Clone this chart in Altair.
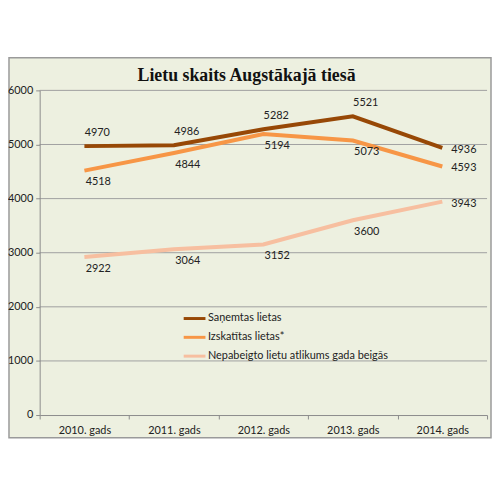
import altair as alt
import pandas as pd

years = ["2010. gads", "2011. gads", "2012. gads", "2013. gads", "2014. gads"]
series_names = ["Saņemtas lietas", "Izskatītas lietas*", "Nepabeigto lietu atlikums gada beigās"]
received = [4970, 4986, 5282, 5521, 4936]
reviewed = [4518, 4844, 5194, 5073, 4593]
pending = [2922, 3064, 3152, 3600, 3943]
y_ticks = [0, 1000, 2000, 3000, 4000, 5000, 6000]
colors = ["#974806", "#f79646", "#f7bfa0"]

W, H = 452, 328
BG = "#edf0e0"
GRAY = "#8c8c8c"

rows = []
for name, vals in zip(series_names, [received, reviewed, pending]):
    for i, (yr, v) in enumerate(zip(years, vals)):
        rows.append({"gads": yr, "series": name, "value": v, "last": i == len(years) - 1})
df = pd.DataFrame(rows)

x_enc = alt.X("gads:N", sort=years, bandPosition=0.5,
              scale=alt.Scale(type="band", paddingInner=0, paddingOuter=0),
              axis=alt.Axis(title=None, tickBand="extent", tickSize=4, labelPadding=6,
                            labelFontSize=11, labelFont="Lato", labelColor="#222",
                            domainColor=GRAY, tickColor=GRAY, labelAngle=0, zindex=1))
y_scale = alt.Scale(domain=[0, 6000], nice=False)
y_axis = alt.Axis(title=None, values=y_ticks, grid=False, format="d",
                  tickSize=4, labelPadding=3, labelFontSize=11, labelFont="Lato",
                  labelColor="#222", domainColor=GRAY, tickColor=GRAY, zindex=1)
y_enc = alt.Y("value:Q", scale=y_scale, axis=y_axis)

one = pd.DataFrame({"a": [0]})

# chart box behind everything
box = alt.Chart(one).mark_rect(fill=BG, stroke="#9a9a9a", strokeWidth=1.5).encode(
    x=alt.value(-31), x2=alt.value(W + 4), y=alt.value(-33), y2=alt.value(H + 23))

grid = alt.Chart(pd.DataFrame({"t": y_ticks[1:]})).mark_rule(color="#a0a0a0", strokeWidth=1).encode(
    y=alt.Y("t:Q", scale=y_scale, axis=y_axis))

base = alt.Chart(df)

lines = base.mark_line(strokeWidth=4).encode(
    x=x_enc, y=y_enc,
    color=alt.Color("series:N", sort=series_names,
                    scale=alt.Scale(domain=series_names, range=colors),
                    legend=alt.Legend(title=None, orient="none", legendX=144, legendY=218,
                                      symbolType="stroke", symbolSize=484, symbolStrokeWidth=3,
                                      labelFont="Lato", labelFontSize=11, labelColor="#222",
                                      labelOffset=1, rowPadding=-3, labelLimit=300)),
)

txt = dict(font="Lato", fontSize=11, color="#222")
lab_top = base.transform_filter("datum.series == 'Saņemtas lietas' && !datum.last").mark_text(
    dx=13, dy=-13, **txt).encode(x=x_enc, y=y_enc, text="value:Q")
lab_below = base.transform_filter("datum.series != 'Saņemtas lietas' && !datum.last").mark_text(
    dx=14, dy=12, **txt).encode(x=x_enc, y=y_enc, text="value:Q")
lab_right = base.transform_filter("datum.last").mark_text(
    align="left", dx=9, dy=2, **txt).encode(x=x_enc, y=y_enc, text="value:Q")

chart = alt.layer(box, grid, lines, lab_top, lab_below, lab_right).properties(
    width=W, height=H,
    autosize=alt.AutoSizeParams(type="none"),
    padding={"left": 32, "top": 81, "right": 5, "bottom": 24},
    background="white",
    title=alt.TitleParams("Lietu skaits Augstākajā tiesā", font="Liberation Serif",
                          fontSize=18, fontWeight="bold", color="#111", offset=-28, dx=-17,
                          zindex=1),
).configure_view(strokeWidth=0)

chart.save("out.html", embed_options={"renderer": "svg", "actions": False})
